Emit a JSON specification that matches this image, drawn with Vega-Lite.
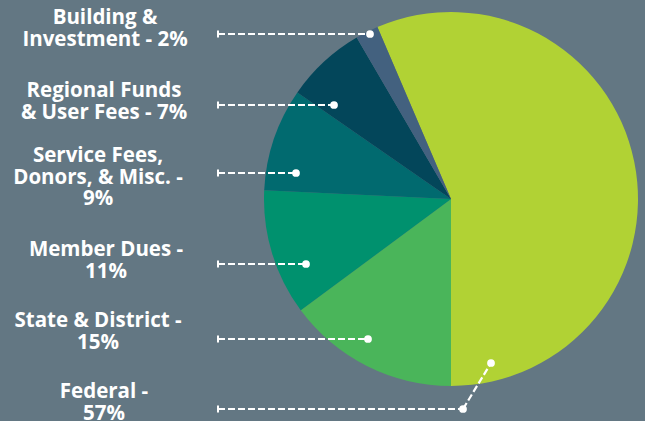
{
  "$schema": "https://vega.github.io/schema/vega-lite/v6.json",
  "width": 645,
  "height": 421,
  "padding": 0,
  "autosize": {"type": "none"},
  "background": "#637783",
  "config": {"view": {"stroke": null}},
  "datasets": {
    "slices": [
      {"category": "Federal", "pct": 57, "order": 1},
      {"category": "State & District", "pct": 15, "order": 2},
      {"category": "Member Dues", "pct": 11, "order": 3},
      {"category": "Service Fees, Donors, & Misc.", "pct": 9, "order": 4},
      {"category": "Regional Funds & User Fees", "pct": 7, "order": 5},
      {"category": "Building & Investment", "pct": 2, "order": 6}
    ],
    "labels": [
      {"category": "Building & Investment", "label": "Building &\nInvestment - 2%", "tx": 105, "ty": 24},
      {"category": "Regional Funds & User Fees", "label": "Regional Funds\n& User Fees - 7%", "tx": 104, "ty": 97},
      {"category": "Service Fees, Donors, & Misc.", "label": "Service Fees,\nDonors, & Misc. -\n9%", "tx": 98, "ty": 162},
      {"category": "Member Dues", "label": "Member Dues -\n11%", "tx": 106, "ty": 256},
      {"category": "State & District", "label": "State & District -\n15%", "tx": 98, "ty": 327},
      {"category": "Federal", "label": "Federal -\n57%", "tx": 104, "ty": 398}
    ],
    "leaders": [
      {"category": "Building & Investment", "x": 218, "y": 34, "x2": 370, "y2": 34, "start": true},
      {"category": "Regional Funds & User Fees", "x": 218, "y": 105, "x2": 334, "y2": 105, "start": true},
      {"category": "Service Fees, Donors, & Misc.", "x": 218, "y": 173, "x2": 296, "y2": 173, "start": true},
      {"category": "Member Dues", "x": 218, "y": 264, "x2": 306, "y2": 264, "start": true},
      {"category": "State & District", "x": 218, "y": 339, "x2": 368, "y2": 339, "start": true},
      {"category": "Federal", "x": 218, "y": 409, "x2": 463, "y2": 409, "start": true},
      {"category": "Federal", "x": 463, "y": 409, "x2": 491, "y2": 363, "start": false}
    ]
  },
  "layer": [
    {
      "data": {"name": "slices"},
      "mark": {"type": "arc", "outerRadius": 187},
      "encoding": {
        "x": {"datum": 451, "type": "quantitative", "scale": {"domain": [0, 645], "nice": false, "zero": false}, "axis": null},
        "y": {"datum": 199, "type": "quantitative", "scale": {"domain": [0, 421], "nice": false, "zero": false, "reverse": true}, "axis": null},
        "theta": {"field": "pct", "type": "quantitative", "stack": true, "scale": {"range": [-0.4044, 5.8788]}},
        "order": {"field": "order", "type": "quantitative"},
        "color": {
          "field": "category",
          "type": "nominal",
          "legend": null,
          "scale": {
            "domain": ["Federal", "State & District", "Member Dues", "Service Fees, Donors, & Misc.", "Regional Funds & User Fees", "Building & Investment"],
            "range": ["#b1d234", "#4ab55a", "#00916e", "#016a6f", "#03465a", "#43617f"]
          }
        }
      }
    },
    {
      "data": {"name": "leaders"},
      "mark": {"type": "rule", "color": "#ffffff", "strokeWidth": 2.2, "strokeDash": [7, 3]},
      "encoding": {
        "x": {"field": "x", "type": "quantitative"},
        "y": {"field": "y", "type": "quantitative"},
        "x2": {"field": "x2"},
        "y2": {"field": "y2"}
      }
    },
    {
      "data": {"name": "leaders"},
      "transform": [{"filter": "datum.start"}],
      "mark": {"type": "point", "shape": "M0,-1L0,1", "filled": false, "stroke": "#ffffff", "strokeWidth": 2, "size": 49, "opacity": 1},
      "encoding": {
        "x": {"field": "x", "type": "quantitative"},
        "y": {"field": "y", "type": "quantitative"}
      }
    },
    {
      "data": {"name": "leaders"},
      "mark": {"type": "point", "shape": "circle", "filled": true, "color": "#ffffff", "size": 60, "opacity": 1},
      "encoding": {
        "x": {"field": "x2", "type": "quantitative"},
        "y": {"field": "y2", "type": "quantitative"}
      }
    },
    {
      "data": {"name": "labels"},
      "mark": {"type": "text", "align": "center", "baseline": "alphabetic", "lineBreak": "\n", "lineHeight": 21.5, "font": "Open Sans", "fontWeight": 700, "fontSize": 20.5, "color": "#ffffff"},
      "encoding": {
        "x": {"field": "tx", "type": "quantitative"},
        "y": {"field": "ty", "type": "quantitative"},
        "text": {"field": "label"}
      }
    }
  ]
}
